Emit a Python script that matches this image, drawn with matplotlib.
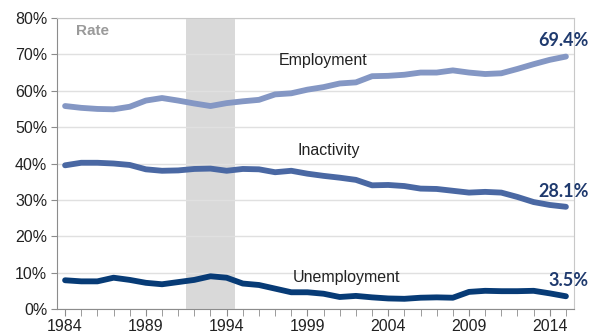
import matplotlib
matplotlib.use('Agg')
import matplotlib.pyplot as plt
from matplotlib.ticker import MultipleLocator, FuncFormatter
from matplotlib.transforms import blended_transform_factory

years = list(range(1984, 2016))
employment = [55.8, 55.3, 55.0, 54.9, 55.6, 57.3, 58.0, 57.3, 56.5, 55.8,
              56.6, 57.1, 57.5, 59.0, 59.3, 60.3, 61.0, 62.0, 62.3, 64.0,
              64.1, 64.4, 65.0, 65.0, 65.6, 65.0, 64.6, 64.8, 66.0, 67.3,
              68.5, 69.4]
inactivity = [39.5, 40.2, 40.2, 40.0, 39.6, 38.4, 38.0, 38.1, 38.5, 38.6,
              38.0, 38.5, 38.4, 37.6, 38.0, 37.2, 36.6, 36.1, 35.5, 34.0,
              34.1, 33.8, 33.1, 33.0, 32.5, 32.0, 32.2, 32.0, 30.8, 29.4,
              28.6, 28.1]
unemployment = [7.9, 7.6, 7.6, 8.6, 8.0, 7.2, 6.8, 7.4, 8.0, 9.0,
                8.6, 7.0, 6.6, 5.6, 4.6, 4.6, 4.2, 3.3, 3.6, 3.2,
                2.9, 2.8, 3.1, 3.2, 3.1, 4.7, 5.0, 4.9, 4.9, 5.0,
                4.3, 3.5]
recession = (1991.5, 1994.5)

plt.rcParams['font.family'] = ['Liberation Sans', 'DejaVu Sans']

fig = plt.figure(figsize=(5.91, 3.36), dpi=100)
ax = fig.add_axes([57 / 591, 27 / 336, 517 / 591, 291 / 336])

ax.axvspan(*recession, color='#d9d9d9', zorder=0, lw=0)
ax.plot(years, employment, color='#8497c4', lw=4.2, solid_capstyle='round', zorder=3)
ax.plot(years, inactivity, color='#4a68a3', lw=4.2, solid_capstyle='round', zorder=3)
ax.plot(years, unemployment, color='#073b76', lw=4.2, solid_capstyle='round', zorder=3)

ax.set_xlim(1983.5, 2015.5)
ax.set_ylim(0, 80)
ax.yaxis.set_major_locator(MultipleLocator(10))
ax.yaxis.set_major_formatter(FuncFormatter(lambda v, p: f'{v:.0f}%'))
ax.set_xticks(list(range(1984, 2016, 5)))
ax.xaxis.set_minor_locator(MultipleLocator(1))
ax.grid(axis='y', color='#e0e0e0', lw=1, zorder=1)
ax.set_axisbelow(True)

for s in ['left', 'bottom']:
    ax.spines[s].set_color('#8c8c8c')
for s in ['top', 'right']:
    ax.spines[s].set_color('#c8c8c8')
ax.tick_params(axis='both', which='both', colors='#8c8c8c', labelcolor='#222222',
               labelsize=11.5, direction='out')
ax.tick_params(axis='x', which='major', length=5, pad=2)
ax.tick_params(axis='x', which='minor', length=5)
ax.tick_params(axis='y', length=4, pad=3)

ax.text(1984.7, 76.3, 'Rate', color='#9a9a9a', fontsize=11, fontweight='bold', va='center')
ax.text(2000, 68.4, 'Employment', fontsize=11.5, color='#222222', ha='center', va='center')
ax.text(2000.3, 43.7, 'Inactivity', fontsize=11.5, color='#222222', ha='center', va='center')
ax.text(2001.4, 8.6, 'Unemployment', fontsize=11.5, color='#222222', ha='center', va='center')

# end-value labels pinned to the right edge of the figure
tr = blended_transform_factory(fig.transFigure, ax.transData)
lab = dict(color='#1f3a6e', fontsize=13, fontweight='bold', ha='right', va='center',
           transform=tr, clip_on=False, family=['Lato', 'DejaVu Sans'])
for series in (employment, inactivity, unemployment):
    ax.text(589 / 591, series[-1] + 4.3, f'{series[-1]}%', **lab)

fig.savefig('out.png', dpi=100)
